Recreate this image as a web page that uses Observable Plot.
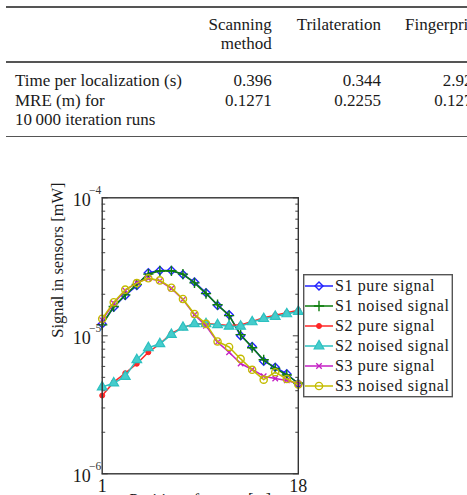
<!DOCTYPE html>
<html>
<head>
<meta charset="utf-8">
<script src="https://cdn.jsdelivr.net/npm/d3@7"></script>
<script src="https://cdn.jsdelivr.net/npm/@observablehq/plot@0.6"></script>
<style>
  html, body { margin: 0; padding: 0; background: #fff; }
  body { width: 467px; height: 495px; overflow: hidden; position: relative;
         font-family: "Liberation Serif", "Times New Roman", serif; color: #1a1a1a; }
  .rule { position: absolute; left: 6px; width: 470px; height: 1.4px; background: #555; }
  .t { position: absolute; font-size: 17px; line-height: 19.5px; white-space: pre; }
  .r { text-align: right; }
  #chart { position: absolute; left: 0; top: 140px; }
  #legend { position: absolute; left: 303px; top: 274px; }
</style>
</head>
<body>
<div id="table"></div>
<div id="chart"></div>
<div id="legend"></div>
<script>
// ---------- table data ----------
const tableColumns = ["Scanning\nmethod", "Trilateration", "Fingerprinting"];
const tableRowLabels = ["Time per localization (s)", "MRE (m) for\n10\u2009000 iteration runs"];
const timePerLocalization = ["0.396", "0.344", "2.921"];
const meanRelativeError = ["0.1271", "0.2255", "0.1271"];

// ---------- chart data ----------
const positions = [1, 2, 3, 4, 5, 6, 7, 8, 9, 10, 11, 12, 13, 14, 15, 16, 17, 18];
const s1Pure   = [1.22e-5, 1.61e-5, 1.96e-5, 2.31e-5, 2.86e-5, 2.97e-5, 2.97e-5, 2.78e-5, 2.45e-5, 2.05e-5, 1.66e-5, 1.42e-5, 1.00e-5, 8.36e-6, 6.55e-6, 5.92e-6, 5.30e-6, 4.49e-6];
const s1Noised = [1.20e-5, 1.63e-5, 1.98e-5, 2.36e-5, 2.80e-5, 2.95e-5, 2.96e-5, 2.80e-5, 2.42e-5, 2.02e-5, 1.68e-5, 1.40e-5, 1.02e-5, 8.20e-6, 6.70e-6, 5.80e-6, 5.20e-6, 4.55e-6];
const s2Pure   = [3.69e-6, 4.61e-6, 5.36e-6, 6.27e-6, 7.60e-6, 8.75e-6, 1.04e-5, 1.15e-5, 1.22e-5, 1.23e-5, 1.21e-5, 1.19e-5, 1.20e-5, 1.27e-5, 1.35e-5, 1.41e-5, 1.47e-5, 1.53e-5];
const s2Noised = [4.25e-6, 4.54e-6, 5.07e-6, 6.70e-6, 8.19e-6, 8.75e-6, 1.02e-5, 1.15e-5, 1.22e-5, 1.22e-5, 1.20e-5, 1.17e-5, 1.17e-5, 1.26e-5, 1.33e-5, 1.38e-5, 1.44e-5, 1.50e-5];
const s3Pure   = [1.30e-5, 1.72e-5, 2.13e-5, 2.43e-5, 2.60e-5, 2.50e-5, 2.20e-5, 1.83e-5, 1.42e-5, 1.18e-5, 9.00e-6, 7.60e-6, 6.30e-6, 5.70e-6, 5.10e-6, 4.90e-6, 4.75e-6, 4.50e-6];
const s3Noised = [1.33e-5, 1.75e-5, 2.16e-5, 2.41e-5, 2.61e-5, 2.52e-5, 2.23e-5, 1.85e-5, 1.44e-5, 1.22e-5, 9.10e-6, 8.30e-6, 6.80e-6, 5.67e-6, 4.81e-6, 5.45e-6, 4.86e-6, 4.44e-6];
const seriesNames = ["S1 pure signal", "S1 noised signal", "S2 pure signal", "S2 noised signal", "S3 pure signal", "S3 noised signal"];
const xTickValues = [1, 18];
const yTickValues = [1e-4, 1e-5, 1e-6];
const yTickBases = ["10", "10", "10"];
const yTickExponents = ["\u22124", "\u22125", "\u22126"];
const yMinorTicks = [2e-6, 3e-6, 4e-6, 5e-6, 6e-6, 7e-6, 8e-6, 9e-6, 2e-5, 3e-5, 4e-5, 5e-5, 6e-5, 7e-5, 8e-5, 9e-5];
const yLabel = "Signal in sensors [mW]";
const xLabel = "Position of mover [m]";

// ---------- styles ----------
const seriesValues = [s1Pure, s1Noised, s2Pure, s2Noised, s3Pure, s3Noised];
const seriesStyle = [
  {color: "#2222ff", symbol: "diamond2", fill: "none", r: 3.6, sw: 1.4},
  {color: "#0d7d0d", symbol: "plus", fill: "none", r: 3.4, sw: 1.4},
  {color: "#ff2626", symbol: "circle", fill: "#ff2626", r: 2.5, sw: 1},
  {color: "#2cc0c0", symbol: "triangle", fill: "#45cccc", r: 3.6, sw: 1.2},
  {color: "#c41fc4", symbol: "times", fill: "none", r: 2.6, sw: 1.3},
  {color: "#c4bc00", symbol: "circle", fill: "none", r: 3.6, sw: 1.4}
];

// ---------- table ----------
const table = document.getElementById("table");
function addText(txt, css) {
  const d = document.createElement("div");
  d.className = "t" + (css.right !== undefined ? " r" : "");
  d.textContent = txt;
  Object.entries(css).forEach(([k, v]) => d.style[k] = v + "px");
  table.appendChild(d);
}
[6.2, 61.2, 135.5].forEach(y => {
  const r = document.createElement("div"); r.className = "rule"; r.style.top = y + "px"; table.appendChild(r);
});
const colRight = [467 - 271.7, 467 - 381];
addText(tableColumns[0], {top: 14.5, right: colRight[0]});
addText(tableColumns[1], {top: 14.5, right: colRight[1]});
addText(tableColumns[2], {top: 14.5, left: 405});
addText(tableRowLabels[0], {top: 70.5, left: 15});
addText(tableRowLabels[1], {top: 90.5, left: 15});
const valueRight = [467 - 271.7, 467 - 381, 467 - 481];
timePerLocalization.forEach((v, i) => addText(v, {top: 70.5, right: valueRight[i]}));
meanRelativeError.forEach((v, i) => addText(v, {top: 90.5, right: valueRight[i]}));

// ---------- chart ----------
const rows = seriesNames.flatMap((name, si) =>
  positions.map((p, i) => ({x: p, y: seriesValues[si][i], series: name, si})));

const seriesMarks = seriesNames.flatMap((name, si) => {
  const st = seriesStyle[si];
  const data = rows.filter(d => d.si === si);
  return [
    Plot.line(data, {x: "x", y: "y", stroke: st.color, strokeWidth: 1.5}),
    Plot.dot(data, {x: "x", y: "y", symbol: () => st.symbol, r: st.r, stroke: st.color,
                    fill: st.fill, strokeWidth: st.sw})
  ];
});

const W = 467, H = 355;
const chart = Plot.plot({
  width: W, height: H,
  marginLeft: 101.7, marginRight: 169.2, marginTop: 57.3, marginBottom: 21.7,
  style: {fontFamily: "Liberation Serif, serif", background: "transparent", color: "#1a1a1a", overflow: "hidden"},
  x: {domain: [1, 18]},
  y: {type: "log", domain: [1e-6, 1e-4]},
  symbol: {type: "identity"},
  marks: [
    Plot.axisY({anchor: "left", ticks: yMinorTicks, tickSize: -3.5, tickFormat: () => "", stroke: "#444", label: null}),
    Plot.axisY({anchor: "right", ticks: yMinorTicks, tickSize: -3.5, tickFormat: () => "", stroke: "#444", label: null}),
    Plot.axisY({anchor: "left", ticks: yTickValues, tickSize: -6, tickFormat: () => "", stroke: "#444", label: null}),
    Plot.axisY({anchor: "right", ticks: yTickValues, tickSize: -6, tickFormat: () => "", stroke: "#444", label: null}),
    Plot.axisX({ticks: xTickValues, tickSize: 0, tickPadding: 5, fontSize: 18, label: null, tickFormat: d => String(d)}),
    ...seriesMarks,
    Plot.frame({stroke: "#333", strokeWidth: 1.4}),
    Plot.text(yTickValues, {y: d => d, text: (d, i) => yTickBases[i], frameAnchor: "left",
      textAnchor: "end", dx: -11.5, dy: 2, fontSize: 18, fill: "#1a1a1a"}),
    Plot.text(yTickValues, {y: d => d, text: (d, i) => yTickExponents[i], frameAnchor: "left",
      textAnchor: "end", dx: -1, dy: -7.5, fontSize: 11.5, fill: "#333"}),
    Plot.text([yLabel], {text: d => d, frameAnchor: "left", rotate: -90, dx: -44.5, dy: 2, fontSize: 16.5, fill: "#1a1a1a"}),
    Plot.text([xLabel], {text: d => d, frameAnchor: "bottom", lineAnchor: "bottom", dy: 31, fontSize: 16, fill: "#1a1a1a"})
  ]
});
document.getElementById("chart").appendChild(chart);

// ---------- legend ----------
const lw = 150, lh = 124;
const leg = d3.select("#legend").append("svg").attr("width", lw).attr("height", lh)
  .style("font-family", "Liberation Serif, serif");
leg.append("rect").attr("x", 0.7).attr("y", 0.7).attr("width", 148.6).attr("height", 122)
  .attr("fill", "#fff").attr("stroke", "#555").attr("stroke-width", 1.4);
const symbolTypes = {diamond2: d3.symbolDiamond2, plus: d3.symbolPlus, circle: d3.symbolCircle,
  triangle: d3.symbolTriangle, times: d3.symbolTimes};
seriesNames.forEach((name, i) => {
  const st = seriesStyle[i];
  const cy = 12 + 20 * i;
  const g = leg.append("g");
  g.append("line").attr("x1", 2).attr("x2", 30).attr("y1", cy).attr("y2", cy)
    .attr("stroke", st.color).attr("stroke-width", 1.5);
  g.append("path").attr("transform", `translate(16,${cy})`)
    .attr("d", d3.symbol(symbolTypes[st.symbol], Math.PI * st.r * st.r)())
    .attr("fill", st.fill).attr("stroke", st.color).attr("stroke-width", st.sw);
  g.append("text").attr("x", 32).attr("y", cy).attr("dy", "0.34em")
    .attr("font-size", 16).attr("letter-spacing", 0.6).attr("fill", "#1a1a1a").text(name);
});
</script>
</body>
</html>
